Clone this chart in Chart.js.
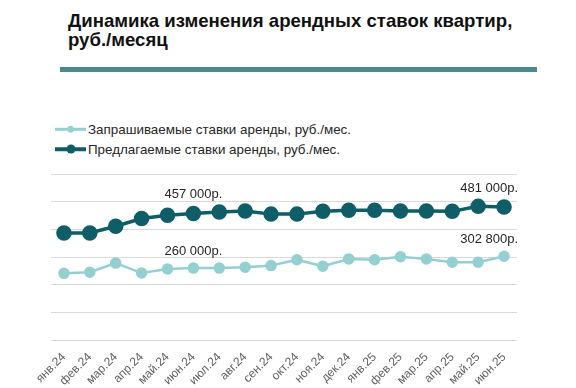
<!DOCTYPE html>
<html><head><meta charset="utf-8">
<script src="https://cdn.jsdelivr.net/npm/chart.js@4.4.1/dist/chart.umd.min.js"></script>
<style>
html,body{margin:0;padding:0;background:#fff;}
#wrap{position:relative;width:576px;height:388px;overflow:hidden;font-family:"Liberation Sans",Arial,sans-serif;}
#title{position:absolute;left:68px;top:11px;font-size:18.6px;font-weight:bold;line-height:19px;color:#111;white-space:nowrap;}
#bar{position:absolute;left:60px;top:67px;width:477px;height:5px;background:#4b8a8c;}
#legend{position:absolute;left:55px;top:119px;font-size:13.4px;color:#262626;}
.li{display:flex;align-items:center;height:20px;}
.mk{position:relative;width:31px;height:10px;margin-right:2px;}
.mk .ln{position:absolute;left:0;right:0;top:50%;transform:translateY(-50%);}
.mk .dt{position:absolute;left:50%;top:50%;border-radius:50%;transform:translate(-50%,-50%);}
canvas{position:absolute;left:0;top:0;}
</style></head>
<body>
<div id="wrap">
<div id="title">Динамика изменения арендных ставок квартир,<br>руб./месяц</div>
<div id="bar"></div>
<div id="legend"></div>
<canvas id="c" width="576" height="388"></canvas>
</div>
<script>
const categories = ['янв.24','фев.24','мар.24','апр.24','май.24','июн.24','июл.24','авг.24','сен.24','окт.24','ноя.24','дек.24','янв.25','фев.25','мар.25','апр.25','май.25','июн.25'];
const askingLabel = 'Запрашиваемые ставки аренды, руб./мес.';
const offeredLabel = 'Предлагаемые ставки аренды, руб./мес.';
const askingRates = [241000,245000,278000,242000,257000,260000,260000,263000,269000,290000,267000,293000,290000,301000,293000,281000,281000,302800];
const offeredRates = [387000,387000,411000,439000,451000,457000,463000,466000,455000,455000,465000,469000,469000,466000,466000,465000,483000,481000];
const labeledIndices = [5, 17];
const yTicks = [0,100000,200000,300000,400000,500000,600000];

const lightColor = '#94cfd1';
const darkColor = '#0e5d67';

function fmt(v){ return String(v).replace(/\B(?=(\d{3})+(?!\d))/g,' ') + 'р.'; }

const valueLabels = {
  id:'valueLabels',
  afterDatasetsDraw(chart){
    const ctx = chart.ctx;
    const area = chart.chartArea;
    ctx.save();
    ctx.font = '13px "Liberation Sans", Arial, sans-serif';
    ctx.fillStyle = '#262626';
    ctx.textBaseline = 'middle';
    chart.data.datasets.forEach((ds, di) => {
      const meta = chart.getDatasetMeta(di);
      labeledIndices.forEach(i => {
        const p = meta.data[i];
        const txt = fmt(ds.data[i]);
        const w = ctx.measureText(txt).width;
        let x = p.x - w/2;
        if (x + w > area.right + 1) x = area.right + 1 - w;
        ctx.textAlign = 'left';
        ctx.fillText(txt, x, p.y - (di === 1 ? 19 : 17));
      });
    });
    ctx.restore();
  }
};

const chart = new Chart(document.getElementById('c'), {
  type:'line',
  data:{
    labels: categories,
    datasets:[
      {label: askingLabel, data: askingRates, borderColor: lightColor, backgroundColor: lightColor,
       pointBackgroundColor: lightColor, pointBorderColor: lightColor, borderWidth: 2.5, pointRadius: 4.5, pointHoverRadius: 4.5, tension: 0},
      {label: offeredLabel, data: offeredRates, borderColor: darkColor, backgroundColor: darkColor,
       pointBackgroundColor: darkColor, pointBorderColor: darkColor, borderWidth: 3.5, pointRadius: 6, pointHoverRadius: 6, tension: 0}
    ]
  },
  options:{
    responsive:false,
    animation:false,
    events:[],
    layout:{padding:{left:51, right:59, top:174, bottom:0}},
    plugins:{legend:{display:false}, title:{display:false}, tooltip:{enabled:false}},
    scales:{
      x:{
        offset:true,
        grid:{display:false},
        border:{display:false},
        afterFit(scale){ scale.height = 48; },
        ticks:{maxRotation:45, minRotation:45, color:'#5f5f5f', autoSkip:false, padding:2,
               font:{size:12, family:'"Liberation Sans", Arial, sans-serif'}}
      },
      y:{
        min:0, max:600000,
        afterBuildTicks(scale){ scale.ticks = yTicks.map(v => ({value:v})); },
        grid:{color:'#d9d9d9', lineWidth:1, drawTicks:false},
        border:{display:false},
        ticks:{display:false}
      }
    }
  },
  plugins:[valueLabels]
});

const lg = document.getElementById('legend');
chart.data.datasets.forEach(ds => {
  const row = document.createElement('div'); row.className='li';
  const mk = document.createElement('span'); mk.className='mk';
  const ln = document.createElement('span'); ln.className='ln';
  ln.style.height = (ds.borderWidth) + 'px'; ln.style.background = ds.borderColor;
  const dt = document.createElement('span'); dt.className='dt';
  const d = ds.pointRadius*1.5; dt.style.width = d+'px'; dt.style.height = d+'px'; dt.style.background = ds.borderColor;
  mk.appendChild(ln); mk.appendChild(dt);
  const tx = document.createElement('span'); tx.textContent = ds.label;
  row.appendChild(mk); row.appendChild(tx); lg.appendChild(row);
});
</script>
</body></html>
